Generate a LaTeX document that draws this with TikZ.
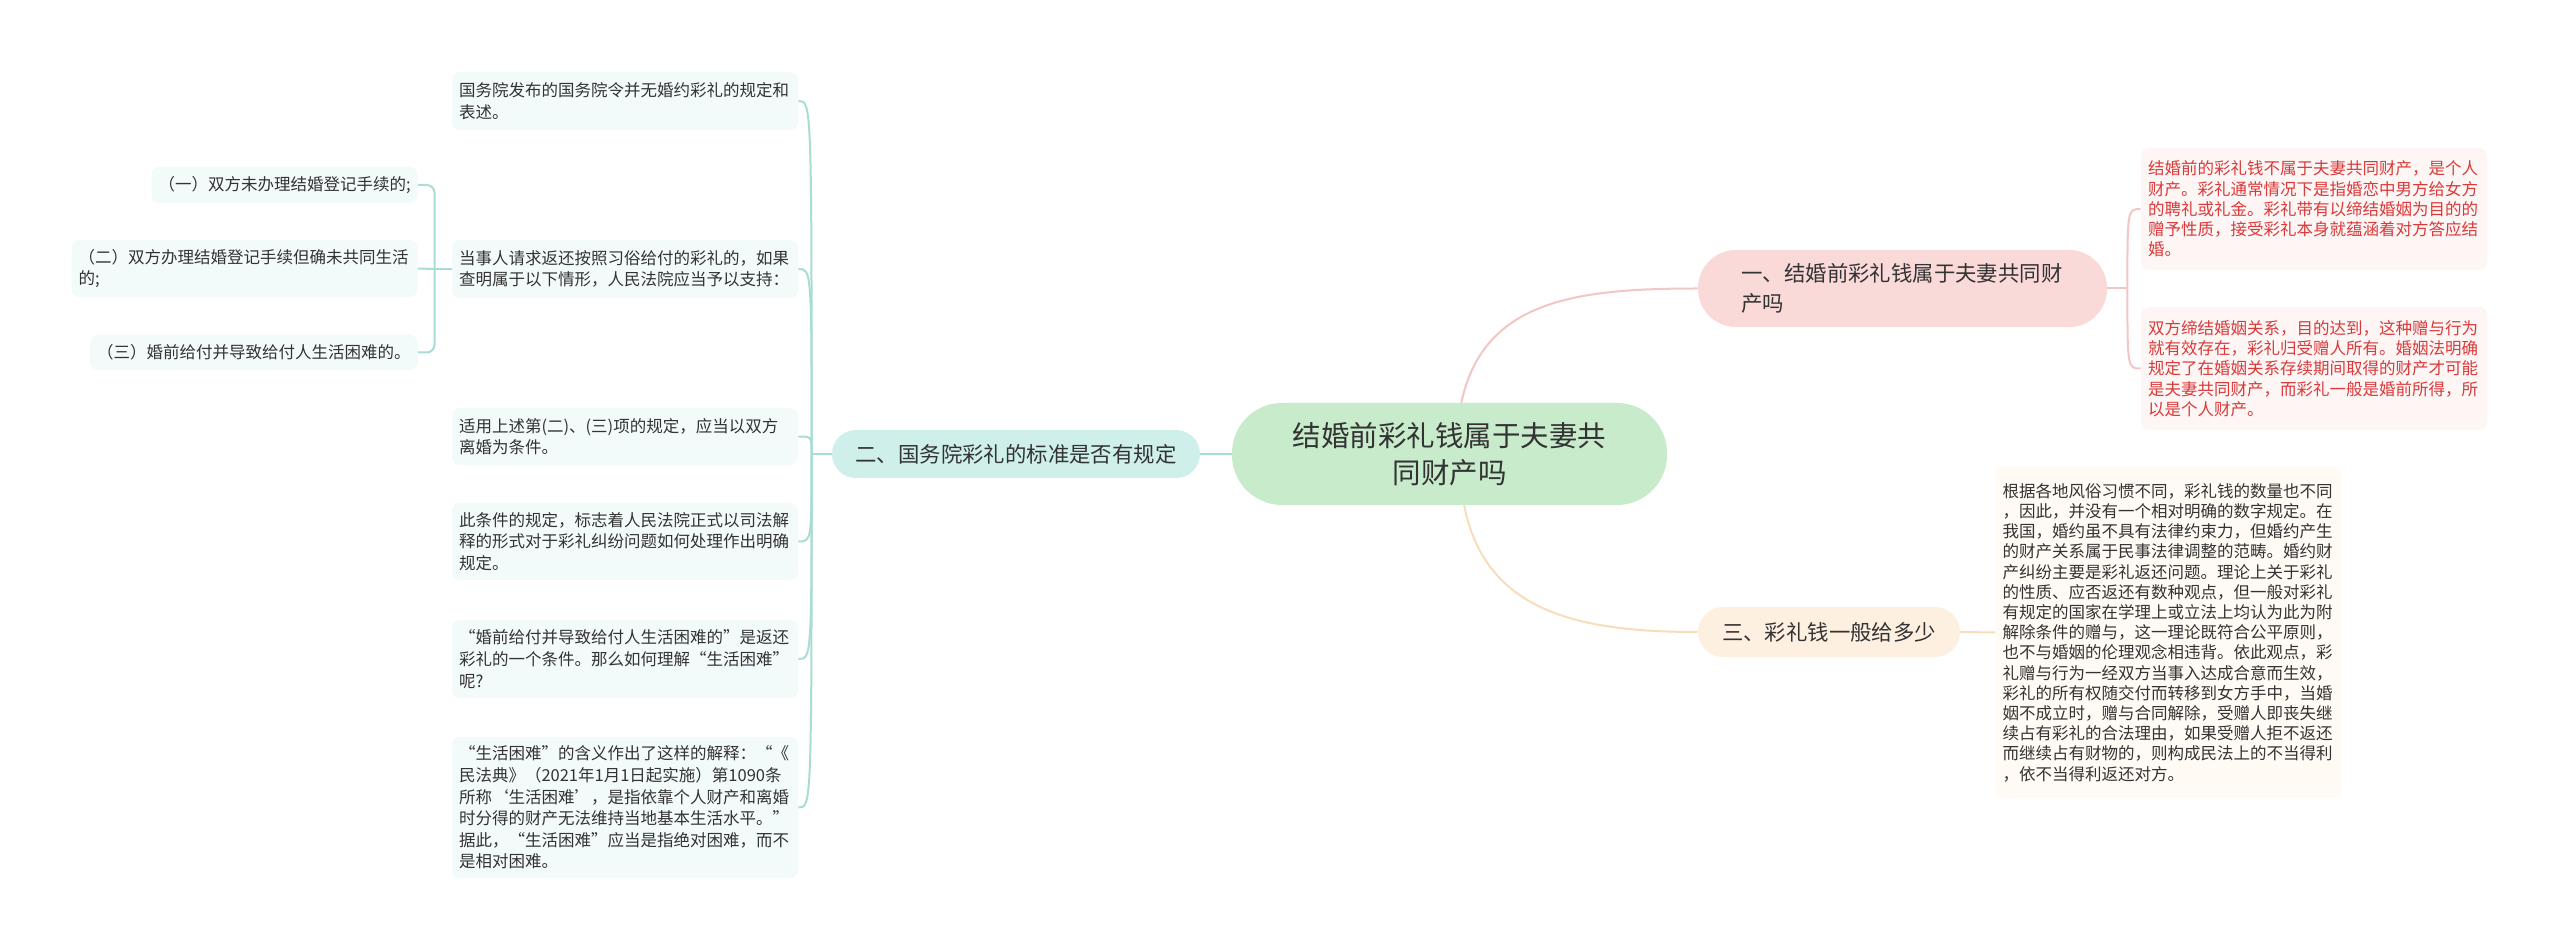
\documentclass[tikz,border=0pt]{standalone}
\usepackage{fontspec}
\setmainfont{Noto Sans CJK SC}
\usetikzlibrary{backgrounds}

\definecolor{textgray}{HTML}{333333}
\definecolor{textred}{HTML}{D93A3A}
\definecolor{rootgreen}{HTML}{C7EBCB}
\definecolor{tealfill}{HTML}{CFEFEA}
\definecolor{tealleaf}{HTML}{F3FAFA}
\definecolor{tealline}{HTML}{A9DDD4}
\definecolor{pinkfill}{HTML}{FAD9D9}
\definecolor{pinkleaf}{HTML}{FEF5F5}
\definecolor{pinkline}{HTML}{F3C6C6}
\definecolor{peachfill}{HTML}{FDF0E1}
\definecolor{peachleaf}{HTML}{FFFAF3}
\definecolor{peachline}{HTML}{F8DDBB}

\begin{document}
\begin{tikzpicture}[x=0.5pt, y=-0.5pt,
    leaf/.style={fill=tealleaf, rounded corners=4pt, text=textgray, align=left,
        inner xsep=3.5pt, inner ysep=4pt, font=\fontsize{8.25}{10.8}\selectfont},
    wideleaf/.style={leaf, text width=166pt},
    redleaf/.style={wideleaf, fill=pinkleaf, text=textred, font=\fontsize{8.25}{10.15}\selectfont},
    branch/.style={text=textgray, font=\fontsize{10.7}{15}\selectfont},
    tealwire/.style={draw=tealline, line width=1pt},
    pinkwire/.style={draw=pinkline, line width=1pt},
    peachwire/.style={draw=peachline, line width=1pt}]

    \useasboundingbox (0,0) rectangle (2560,951);

    % root
    \node[fill=rootgreen, rounded corners=25pt, minimum width=217.5pt, minimum height=51pt,
        align=center, text=textgray, font=\fontsize{14.25}{18.5}\selectfont]
        (root) at (1449.5,454) {结婚前彩礼钱属于夫妻共\\同财产吗};

    % left branch
    \node[branch, fill=tealfill, rounded corners=12pt, minimum width=184pt, minimum height=24pt]
        (b2) at (1016,454) {二、国务院彩礼的标准是否有规定};

    \node[wideleaf, minimum height=29pt] (l1) at (625,101)
        {国务院发布的国务院令并无婚约彩礼的规定和\\表述。};
    \node[wideleaf, minimum height=29pt] (l2) at (625,269)
        {当事人请求返还按照习俗给付的彩礼的，如果\\查明属于以下情形，人民法院应当予以支持：};
    \node[wideleaf, minimum height=28.5pt] (l3) at (625,436.5)
        {适用上述第(二)、(三)项的规定，应当以双方\\离婚为条件。};
    \node[wideleaf, minimum height=38.5pt] (l4) at (625,541.5)
        {此条件的规定，标志着人民法院正式以司法解\\释的形式对于彩礼纠纷问题如何处理作出明确\\规定。};
    \node[wideleaf, minimum height=39pt] (l5) at (625,659)
        {“婚前给付并导致给付人生活困难的”是返还\\彩礼的一个条件。那么如何理解“生活困难”\\呢?};
    \node[wideleaf, minimum height=70.5pt] (l6) at (625,807.5)
        {“生活困难”的含义作出了这样的解释：“《\\民法典》（2021年1月1日起实施）第1090条\\所称‘生活困难’，是指依靠个人财产和离婚\\时分得的财产无法维持当地基本生活水平。”\\据此，“生活困难”应当是指绝对困难，而不\\是相对困难。};

    \node[leaf, anchor=east, minimum height=18pt] (s1) at (418,185)
        {（一）双方未办理结婚登记手续的;};
    \node[wideleaf, anchor=east, minimum height=28.5pt] (s2) at (418,268.5)
        {（二）双方办理结婚登记手续但确未共同生活\\的;};
    \node[leaf, anchor=east, minimum height=17.5pt] (s3) at (418,352.5)
        {（三）婚前给付并导致给付人生活困难的。};

    % right branches
    \node[branch, fill=pinkfill, rounded corners=19pt, text width=161pt, align=left,
        inner xsep=21.75pt, minimum height=38.5pt]
        (b1) at (1902.5,288.5) {一、结婚前彩礼钱属于夫妻共同财\\产吗};

    \node[redleaf, minimum height=61pt] (r1) at (2314,209)
        {结婚前的彩礼钱不属于夫妻共同财产，是个人\\财产。彩礼通常情况下是指婚恋中男方给女方\\的聘礼或礼金。彩礼带有以缔结婚姻为目的的\\赠予性质，接受彩礼本身就蕴涵着对方答应结\\婚。};
    \node[redleaf, minimum height=61.5pt] (r2) at (2314,368.5)
        {双方缔结婚姻关系，目的达到，这种赠与行为\\就有效存在，彩礼归受赠人所有。婚姻法明确\\规定了在婚姻关系存续期间取得的财产才可能\\是夫妻共同财产，而彩礼一般是婚前所得，所\\以是个人财产。};

    \node[branch, fill=peachfill, rounded corners=12.5pt, minimum width=131pt, minimum height=25pt]
        (b3) at (1829,632) {三、彩礼钱一般给多少};

    \node[wideleaf, fill=peachleaf, font=\fontsize{8.25}{10.1}\selectfont, minimum height=165.5pt]
        (r3) at (2168.5,632.5)
        {根据各地风俗习惯不同，彩礼钱的数量也不同\\，因此，并没有一个相对明确的数字规定。在\\我国，婚约虽不具有法律约束力，但婚约产生\\的财产关系属于民事法律调整的范畴。婚约财\\产纠纷主要是彩礼返还问题。理论上关于彩礼\\的性质、应否返还有数种观点，但一般对彩礼\\有规定的国家在学理上或立法上均认为此为附\\解除条件的赠与，这一理论既符合公平原则，\\也不与婚姻的伦理观念相违背。依此观点，彩\\礼赠与行为一经双方当事入达成合意而生效，\\彩礼的所有权随交付而转移到女方手中，当婚\\姻不成立时，赠与合同解除，受赠人即丧失继\\续占有彩礼的合法理由，如果受赠人拒不返还\\而继续占有财物的，则构成民法上的不当得利\\，依不当得利返还对方。};

    \begin{scope}[on background layer]
        \fill[white] (0,0) rectangle (2560,951);

        \draw[tealwire] (root.west) -- (b2.east);
        \draw[tealwire] (b2.west) -- ++(-20,0) coordinate (j2);
        \foreach \n in {l1,l2,l3,l4,l5,l6}
            \draw[tealwire] (j2) .. controls (j2 |- \n.east) .. (\n.east);

        \draw[tealwire] (l2.west) -- ++(-17,0) coordinate (j5);
        \draw[tealwire, rounded corners=4pt] (s1.east) -| (j5);
        \draw[tealwire, rounded corners=4pt] (s3.east) -| (j5);
        \draw[tealwire] (s2.east) -- (j5);

        \draw[pinkwire] ([xshift=3.5pt]root.center) .. controls +(0,-150) and +(-140,0) .. (b1.west);
        \draw[pinkwire] (b1.east) -- ++(20,0) coordinate (j1);
        \foreach \n in {r1,r2}
            \draw[pinkwire] (j1) .. controls (j1 |- \n.west) .. (\n.west);

        \draw[peachwire] ([xshift=5pt]root.center) .. controls +(0,150) and +(-140,0) .. (b3.west);
        \draw[peachwire] (b3.east) -- (r3.west);
    \end{scope}
\end{tikzpicture}
\end{document}
